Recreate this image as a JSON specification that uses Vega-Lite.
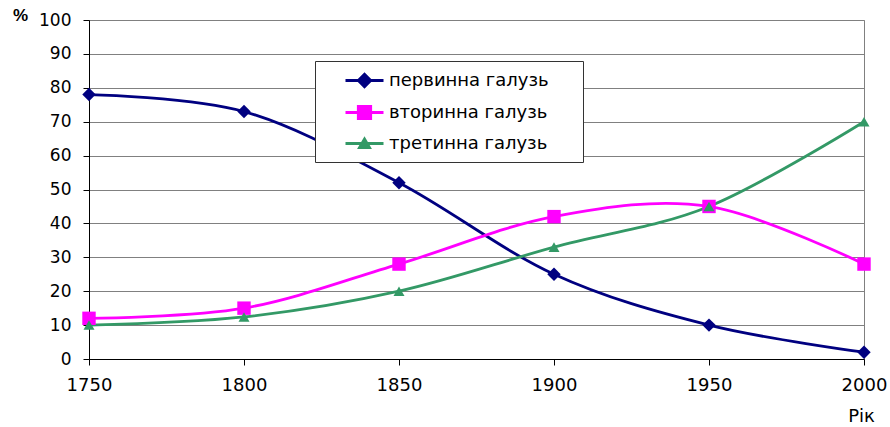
{
  "$schema": "https://vega.github.io/schema/vega-lite/v6.json",
  "width": 775,
  "height": 339,
  "autosize": {"type": "none"},
  "padding": {"left": 89, "top": 20, "right": 26, "bottom": 68},
  "background": "white",
  "config": {"view": {"stroke": "#808080", "strokeWidth": 1}, "font": "DejaVu Sans"},
  "data": {"values": [
    {"series": "первинна галузь", "year": 1750, "value": 78},
    {"series": "первинна галузь", "year": 1800, "value": 73},
    {"series": "первинна галузь", "year": 1850, "value": 52},
    {"series": "первинна галузь", "year": 1900, "value": 25},
    {"series": "первинна галузь", "year": 1950, "value": 10},
    {"series": "первинна галузь", "year": 2000, "value": 2},
    {"series": "вторинна галузь", "year": 1750, "value": 12},
    {"series": "вторинна галузь", "year": 1800, "value": 15},
    {"series": "вторинна галузь", "year": 1850, "value": 28},
    {"series": "вторинна галузь", "year": 1900, "value": 42},
    {"series": "вторинна галузь", "year": 1950, "value": 45},
    {"series": "вторинна галузь", "year": 2000, "value": 28},
    {"series": "третинна галузь", "year": 1750, "value": 10},
    {"series": "третинна галузь", "year": 1800, "value": 12.4},
    {"series": "третинна галузь", "year": 1850, "value": 20},
    {"series": "третинна галузь", "year": 1900, "value": 33},
    {"series": "третинна галузь", "year": 1950, "value": 45},
    {"series": "третинна галузь", "year": 2000, "value": 70}
  ]},
  "encoding": {
    "x": {
      "field": "year", "type": "quantitative",
      "scale": {"domain": [1750, 2000], "nice": false, "zero": false},
      "axis": {
        "values": [1750, 1800, 1850, 1900, 1950, 2000], "format": "d", "grid": false,
        "labelFlush": false, "labelOverlap": false,
        "domainColor": "black", "tickColor": "black", "tickSize": 6,
        "labelFontSize": 18, "labelColor": "black", "labelPadding": 11,
        "title": "Рік", "titleFontSize": 18, "titleFontWeight": "normal", "titleColor": "black",
        "titleX": 772, "titleY": 62, "titleBaseline": "alphabetic", "titleAlign": "center"
      }
    },
    "y": {
      "field": "value", "type": "quantitative",
      "scale": {"domain": [0, 100], "nice": false},
      "axis": {
        "values": [0, 10, 20, 30, 40, 50, 60, 70, 80, 90, 100], "grid": true,
        "gridColor": "#808080", "gridWidth": 1, "domainColor": "black", "tickColor": "black", "tickSize": 6,
        "labelFontSize": 17, "labelColor": "black", "labelPadding": 12,
        "title": "%", "titleFont": "Liberation Sans", "titleAngle": 0, "titleX": -69, "titleY": 0, "titleBaseline": "alphabetic",
        "titleAlign": "center", "titleFontSize": 17, "titleFontWeight": "bold", "titleColor": "black"
      }
    },
    "color": {
      "field": "series", "type": "nominal",
      "scale": {"domain": ["первинна галузь", "вторинна галузь", "третинна галузь"], "range": ["#000080", "#FF00FF", "#339966"]},
      "legend": {
        "title": null, "orient": "none", "legendX": 226, "legendY": 41,
        "symbolSize": 400, "symbolOffset": 30, "labelOffset": 13, "padding": 8, "rowPadding": 7,
        "labelFontSize": 18, "labelColor": "black", "labelLimit": 400,
        "strokeColor": "#333333", "fillColor": "white", "symbolStrokeWidth": 2.8,
        "encode": {
          "symbols": {
            "update": {
              "shape": {"signal": "datum.value === 'первинна галузь' ? 'M-1.9,0L1.9,0M0,-0.62L0.62,0L0,0.62L-0.62,0ZM20.4,0' : datum.value === 'вторинна галузь' ? 'M-1.9,0L1.9,0M-0.62,-0.62L0.62,-0.62L0.62,0.62L-0.62,0.62ZM20.4,0' : 'M-1.9,0L1.9,0M0,-0.45L0.5,0.4L-0.5,0.4ZM20.4,0'"},
              "fill": {"signal": "scale('color', datum.value)"},
              "stroke": {"signal": "scale('color', datum.value)"},
              "strokeWidth": {"value": 2.8},
              "opacity": {"value": 1}
            }
          }
        }
      }
    }
  },
  "layer": [
    {"mark": {"type": "line", "interpolate": "cardinal", "strokeWidth": 2.8}},
    {
      "mark": {
        "type": "point", "filled": true, "opacity": 1, "strokeWidth": 0,
        "shape": {"expr": "datum.series === 'первинна галузь' ? 'diamond' : datum.series === 'вторинна галузь' ? 'square' : 'triangle-up'"},
        "size": {"expr": "datum.series === 'третинна галузь' ? 121 : 180"}
      }
    }
  ]
}
